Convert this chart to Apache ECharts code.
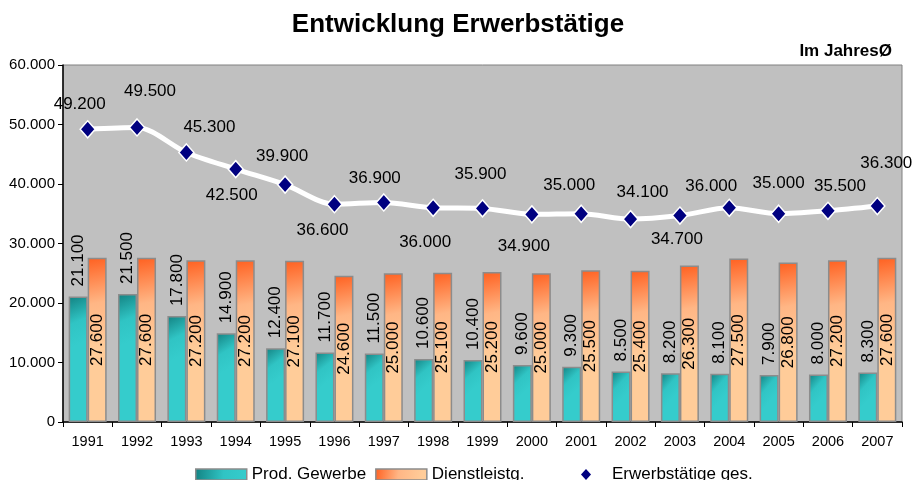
<!DOCTYPE html>
<html>
<head>
<meta charset="utf-8">
<title>Entwicklung Erwerbstätige</title>
<script src="https://cdn.jsdelivr.net/npm/echarts@6/dist/echarts.min.js"></script>
<style>
  html, body { margin: 0; padding: 0; background: #fff; }
  #main { width: 916px; height: 480px; }
</style>
</head>
<body>
<div id="main"></div>
<script>
// Jahre (Kategorien)
var years = ['1991', '1992', '1993', '1994', '1995', '1996', '1997', '1998', '1999',
    '2000', '2001', '2002', '2003', '2004', '2005', '2006', '2007'];
// Produzierendes Gewerbe
var prodGewerbe = [21100, 21500, 17800, 14900, 12400, 11700, 11500, 10600, 10400,
    9600, 9300, 8500, 8200, 8100, 7900, 8000, 8300];
// Dienstleistungen
var dienstleistung = [27600, 27600, 27200, 27200, 27100, 24600, 25000, 25100, 25200,
    25000, 25500, 25400, 26300, 27500, 26800, 27200, 27600];
// Erwerbstätige gesamt
var erwerbsGes = [49200, 49500, 45300, 42500, 39900, 36600, 36900, 36000, 35900,
    34900, 35000, 34100, 34700, 36000, 35000, 35500, 36300];

// Verschiebung der Beschriftungen an der Linie (Pixel, relativ zum Punkt)
var lineLabelOffsets = [[-8, -25], [13, -36], [23, -25], [-4, 26], [-3, -28], [-12, 26],
    [-9, -24], [-8, 35], [-2, -34], [-8, 32], [-12, -28], [12, -27], [-3, 24],
    [-18, -21], [0, -30], [12, -24], [9, -43]];

var FONT = "'Liberation Sans', Arial, sans-serif";

// Tausenderpunkt wie im Original (49.200)
function fmt(v) {
    return String(v).replace(/\B(?=(\d{3})+(?!\d))/g, '.');
}

var myChart = echarts.init(document.getElementById('main'));

var tealColor = new echarts.graphic.LinearGradient(0, 0, 1, 0.35, [
    { offset: 0, color: '#138282' },
    { offset: 0.55, color: '#30c4c4' },
    { offset: 1, color: '#35cccc' }
]);
var orangeColor = new echarts.graphic.LinearGradient(0, 0, 0.9, 0.55, [
    { offset: 0, color: '#ff6020' },
    { offset: 0.5, color: '#ffb685' },
    { offset: 1, color: '#ffcc99' }
]);

var lineData = erwerbsGes.map(function (v, i) {
    return {
        value: v,
        label: { offset: lineLabelOffsets[i] }
    };
});

var option = {
    backgroundColor: '#ffffff',
    animation: false,
    textStyle: { fontFamily: FONT },
    title: [
        {
            text: 'Entwicklung Erwerbstätige',
            left: 'center',
            top: 7,
            textStyle: { fontFamily: FONT, fontSize: 26, fontWeight: 'bold', color: '#000' }
        },
        {
            text: 'Im JahresØ',
            right: 19,
            top: 38,
            textStyle: { fontFamily: FONT, fontSize: 17, fontWeight: 'bold', color: '#000' }
        }
    ],
    legend: [
        {
            data: ['Prod. Gewerbe', 'Dienstleistg.'],
            left: 190,
            top: 461,
            itemWidth: 51,
            itemHeight: 11,
            itemGap: 9,
            icon: 'rect',
            itemStyle: { borderColor: '#8c8c8c', borderWidth: 1.5 },
            textStyle: { fontFamily: FONT, fontSize: 17, color: '#000' }
        },
        {
            data: [{ name: 'Erwerbstätige ges.', icon: 'diamond' }],
            left: 576,
            top: 461,
            itemWidth: 10,
            itemHeight: 11,
            itemStyle: { color: '#000080', borderWidth: 0 },
            textStyle: { fontFamily: FONT, fontSize: 17, color: '#000', padding: [0, 0, 0, 16] }
        }
    ],
    grid: {
        left: 63,
        right: 14,
        top: 65,
        bottom: 58,
        show: true,
        backgroundColor: '#c0c0c0',
        borderColor: '#808080',
        borderWidth: 1
    },
    xAxis: {
        type: 'category',
        data: years,
        axisLine: { lineStyle: { color: '#000', width: 1.5 } },
        axisTick: { show: true, length: 5, lineStyle: { color: '#000' } },
        axisLabel: { fontFamily: FONT, fontSize: 14.5, color: '#000', margin: 12 }
    },
    yAxis: {
        type: 'value',
        min: 0,
        max: 60000,
        interval: 10000,
        axisLine: { show: true, lineStyle: { color: '#000', width: 1.5 } },
        axisTick: { show: true, length: 5, lineStyle: { color: '#000' } },
        splitLine: { show: false },
        axisLabel: {
            fontFamily: FONT, fontSize: 15, color: '#000', margin: 8,
            formatter: function (v) { return fmt(v); }
        }
    },
    series: [
        {
            name: 'Prod. Gewerbe',
            type: 'bar',
            data: prodGewerbe,
            barWidth: 19,
            barGap: '0%',
            itemStyle: { color: tealColor, borderColor: '#8c8c8c', borderWidth: 1.5 },
            label: {
                show: true,
                position: 'top',
                rotate: 90,
                align: 'left',
                verticalAlign: 'middle',
                distance: 10,
                fontFamily: FONT,
                fontSize: 17,
                color: '#000',
                formatter: function (p) { return fmt(p.value); }
            },
            z: 2
        },
        {
            name: 'Dienstleistg.',
            type: 'bar',
            data: dienstleistung,
            barWidth: 19,
            barGap: '0%',
            itemStyle: { color: orangeColor, borderColor: '#8c8c8c', borderWidth: 1.5 },
            label: {
                show: true,
                position: 'inside',
                rotate: 90,
                align: 'center',
                verticalAlign: 'middle',
                fontFamily: FONT,
                fontSize: 17,
                color: '#000',
                formatter: function (p) { return fmt(p.value); }
            },
            z: 2
        },
        {
            name: 'Erwerbstätige ges.',
            type: 'line',
            data: lineData,
            smooth: 0.3,
            symbol: 'diamond',
            symbolSize: [15, 17],
            lineStyle: { color: '#ffffff', width: 5 },
            itemStyle: { color: '#000080', borderColor: '#ffffff', borderWidth: 1.5 },
            label: {
                show: true,
                position: 'inside',
                fontFamily: FONT,
                fontSize: 17,
                color: '#000',
                formatter: function (p) { return fmt(p.value); }
            },
            z: 5
        }
    ]
};

myChart.setOption(option);
</script>
</body>
</html>
